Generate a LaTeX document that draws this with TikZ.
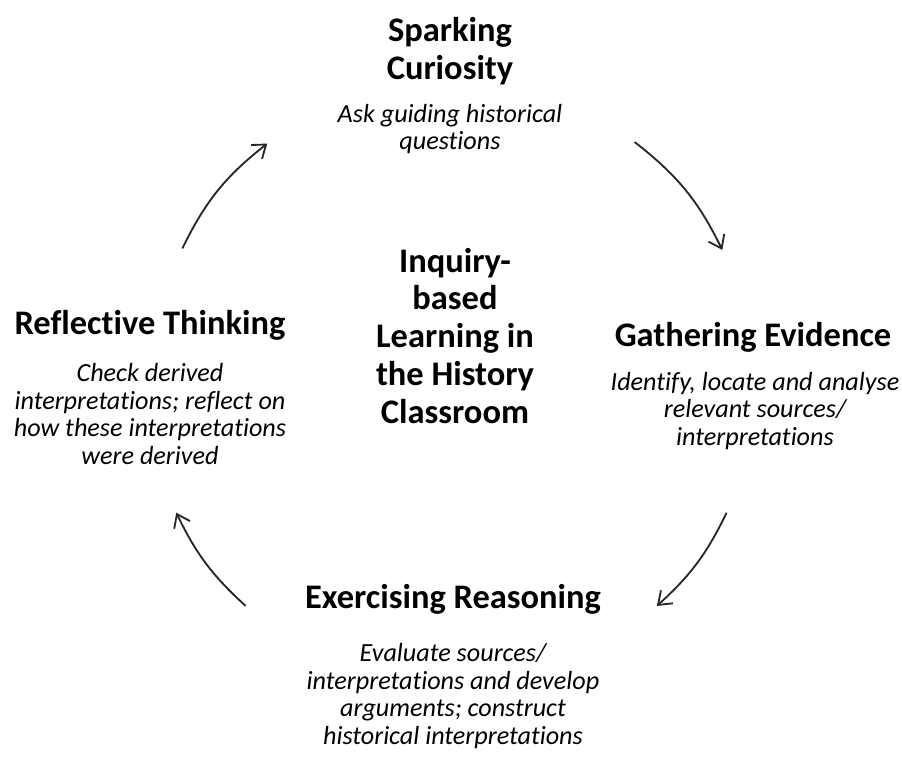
\documentclass[tikz,border=0pt]{standalone}
\usepackage{fontspec}
\setmainfont{Carlito}[Ligatures=NoCommon]
\usetikzlibrary{arrows.meta, positioning}
\tikzset{
  ttl/.style={align=center, inner sep=0pt, font=\bfseries\fontsize{24.5}{27}\selectfont},
  dsc/.style={align=center, inner sep=0pt, font=\itshape\fontsize{18.6}{19.8}\selectfont},
  cyc/.style={-{Straight Barb[length=3mm, width=4.4mm]}, line width=1.3pt, draw=black!85},
}
\begin{document}
\begin{tikzpicture}[x=0.025cm, y=0.025cm]
  \useasboundingbox (-452,380) rectangle (450,-389);
  % hub of the cycle
  \node (hub) [ttl] at (3,44) {Inquiry-\\based\\Learning in\\the History\\Classroom};
  % the four stages
  \node (spark) [ttl] at (-2,329) {Sparking\\Curiosity};
  \node (sparkd) [dsc] at (-2,251) {Ask guiding historical\\questions};
  \node (gather) [ttl] at (301,43) {Gathering Evidence};
  \node (gatherd) [dsc] at (303,-31) {Identify, locate and analyse\\relevant sources/\\interpretations};
  \node (reason) [ttl] at (1,-219) {Exercising Reasoning};
  \node (reasond) [dsc] at (1,-316) {Evaluate sources/\\interpretations and develop\\arguments; construct\\historical interpretations};
  \node (reflect) [ttl] at (-302,55) {Reflective Thinking};
  \node (reflectd) [dsc] at (-302,-34) {Check derived\\interpretations; reflect on\\how these interpretations\\were derived};
  % arrow ends on the ring
  \coordinate (a1) at (154:300);
  \coordinate (b1) at (128:300);
  \coordinate (a2) at (52.5:300);
  \coordinate (b2) at (25.7:300);
  \coordinate (a3) at (-25.8:305);
  \coordinate (b3) at (-47.8:305);
  \coordinate (a4) at (-132.4:306);
  \coordinate (b4) at (-154.3:306);
  \draw[cyc] (a1) to[bend left=13] (b1);
  \draw[cyc] (a2) to[bend left=13] (b2);
  \draw[cyc] (a3) to[bend left=11] (b3);
  \draw[cyc] (a4) to[bend left=11] (b4);
\end{tikzpicture}
\end{document}
